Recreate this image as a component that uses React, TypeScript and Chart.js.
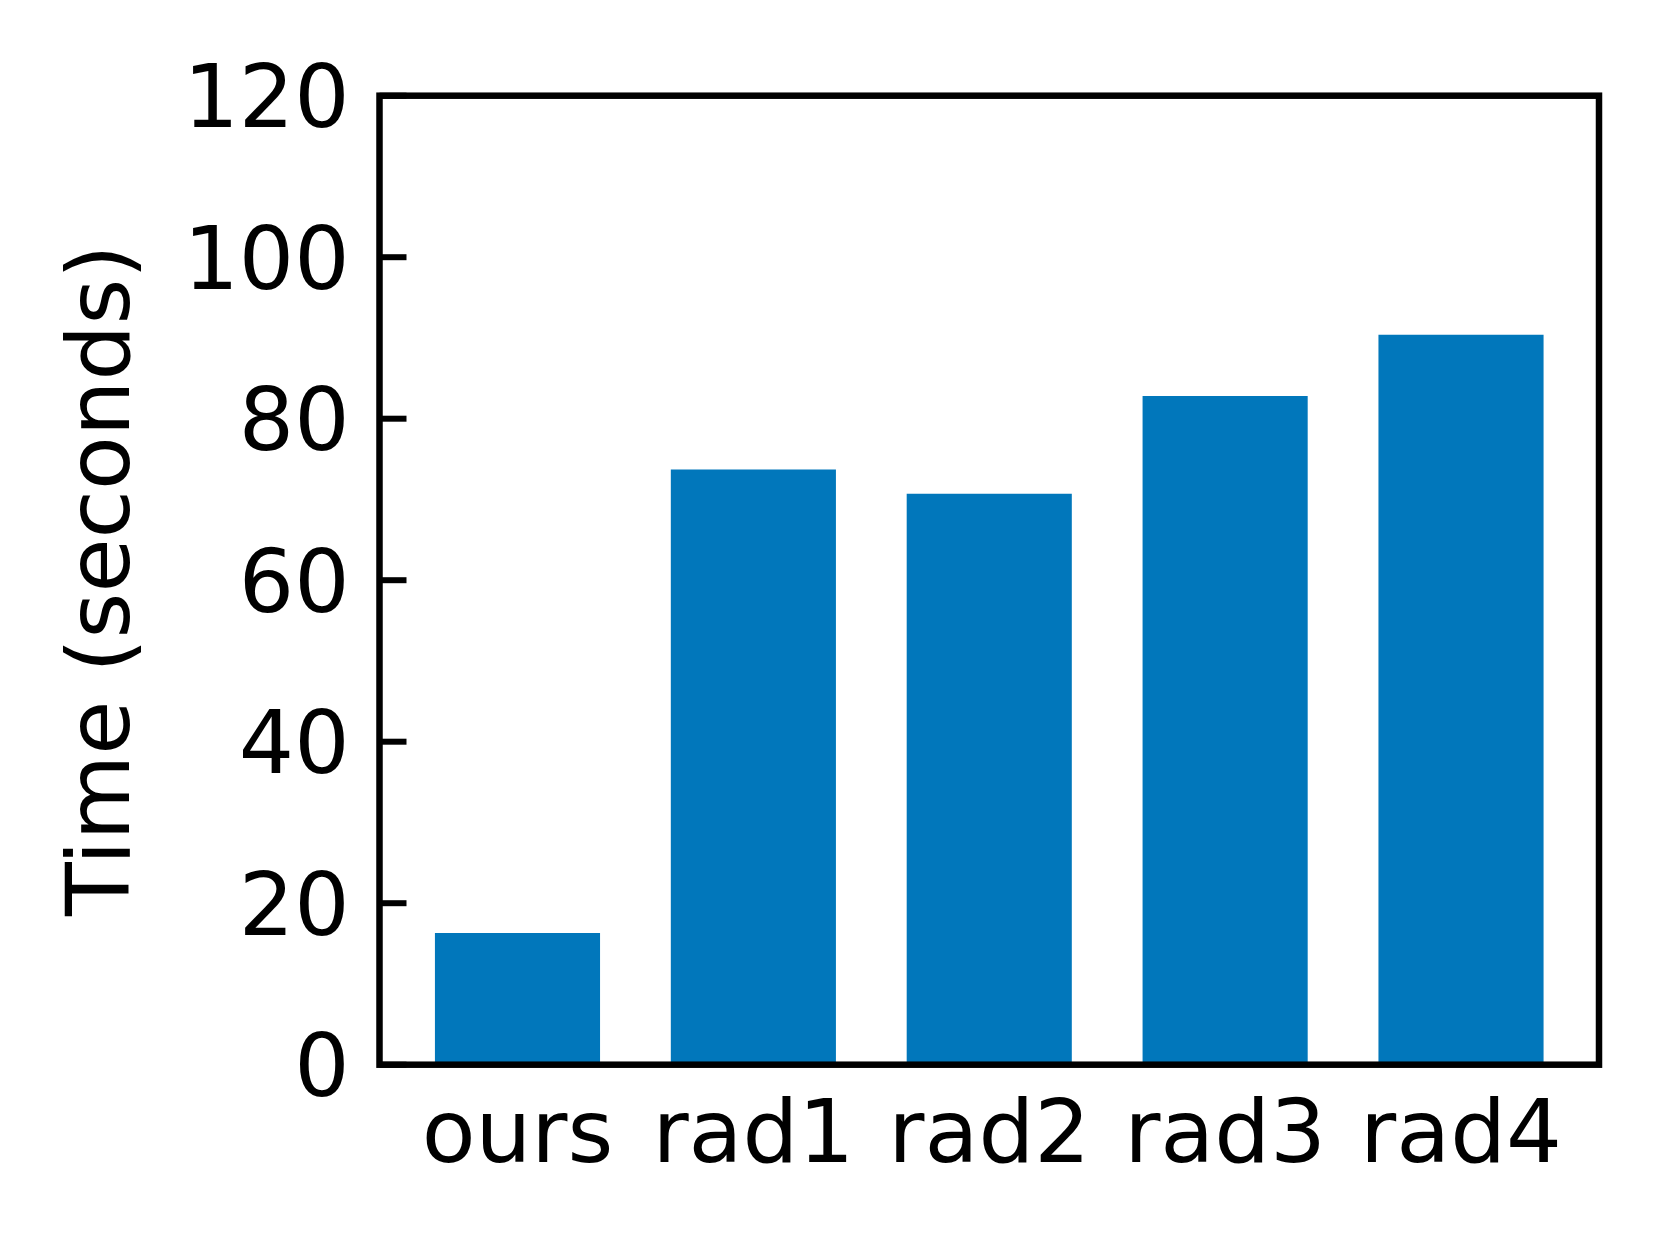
import React, { useEffect, useRef } from "react";
import { Chart, registerables } from "chart.js";

Chart.register(...registerables);

const categories: string[] = ["ours", "rad1", "rad2", "rad3", "rad4"];
const times: number[] = [16.3, 73.7, 70.7, 82.8, 90.4];
const yTicks: number[] = [0, 20, 40, 60, 80, 100, 120];

const W = 1662;
const H = 1243;
const FONT = "'DejaVu Sans', 'Liberation Sans', sans-serif";

const framePlugin = {
  id: "frameAndTicks",
  afterDraw(chart: any) {
    const { ctx, chartArea, scales } = chart;
    const { left, right, top, bottom } = chartArea;
    ctx.save();
    ctx.strokeStyle = "#000";
    // inward y ticks
    ctx.lineWidth = 6;
    ctx.lineCap = "butt";
    for (const v of yTicks) {
      const y = scales.y.getPixelForValue(v);
      ctx.beginPath();
      ctx.moveTo(left, y);
      ctx.lineTo(left + 27, y);
      ctx.stroke();
    }
    ctx.lineWidth = 6.5;
    ctx.lineJoin = "miter";
    ctx.strokeRect(left, top, right - left, bottom - top);
    ctx.restore();
  },
};

export default function App() {
  const ref = useRef<HTMLCanvasElement | null>(null);
  useEffect(() => {
    document.body.style.margin = "0";
    const canvas = ref.current;
    if (!canvas) return;
    const chart = new Chart(canvas, {
      type: "bar",
      data: {
        datasets: [
          {
            data: times.map((t, i) => ({ x: i, y: t })),
            backgroundColor: "#0177bb",
            borderWidth: 0,
            categoryPercentage: 1,
            barPercentage: 0.7,
          },
        ],
      },
      options: {
        responsive: false,
        animation: false,
        events: [],
        layout: { padding: { top: 95.7, right: 63, left: 0, bottom: 0 } },
        plugins: {
          legend: { display: false },
          tooltip: { enabled: false },
        },
        scales: {
          x: {
            type: "linear",
            min: -0.585,
            max: 4.585,
            offset: false,
            grid: { display: false, drawTicks: false },
            border: { display: false },
            afterBuildTicks: (scale: any) => {
              scale.ticks = categories.map((_, i) => ({ value: i }));
            },
            afterFit: (scale: any) => {
              scale.height = H - 1064.7;
            },
            ticks: {
              autoSkip: false,
              maxRotation: 0,
              minRotation: 0,
              padding: 22,
              color: "#000",
              font: { family: FONT, size: 88 },
              callback: (v: any) => categories[Number(v)] ?? "",
            },
          },
          y: {
            type: "linear",
            min: 0,
            max: 120,
            grid: { display: false, drawTicks: false },
            border: { display: false },
            afterBuildTicks: (scale: any) => {
              scale.ticks = yTicks.map((v) => ({ value: v }));
            },
            afterFit: (scale: any) => {
              scale.width = 379.5;
            },
            ticks: {
              padding: 30,
              labelOffset: 9,
              color: "#000",
              font: { family: FONT, size: 87 },
            },
            title: {
              display: true,
              text: "Time (seconds)",
              color: "#000",
              font: { family: FONT, size: 88, lineHeight: 1.2 },
              padding: { top: 53, bottom: 0 },
            },
          },
        },
      },
      plugins: [framePlugin],
    });
    return () => chart.destroy();
  }, []);
  return (
    <div style={{ position: "absolute", left: 0, top: 0, width: W, height: H, background: "#fff" }}>
      <canvas ref={ref} width={W} height={H} style={{ width: W, height: H, display: "block" }} />
    </div>
  );
}
